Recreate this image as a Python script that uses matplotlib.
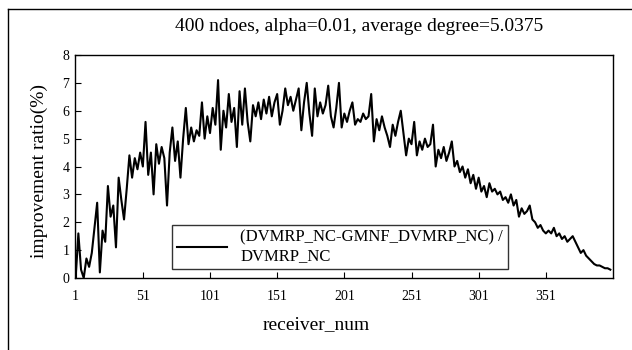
import matplotlib
matplotlib.use("Agg")
import matplotlib.pyplot as plt
from matplotlib.lines import Line2D

# receiver_num sampled every 2 receivers (1, 3, 5, ..., 399)
receivers = list(range(1, 401, 2))
ratio = [
    0.0, 1.6, 0.3, 0.0, 0.7, 0.4, 0.9, 1.8, 2.7, 0.2,
    1.7, 1.3, 3.3, 2.2, 2.6, 1.1, 3.6, 2.8, 2.1, 3.2,
    4.4, 3.6, 4.3, 3.9, 4.5, 4.0, 5.6, 3.7, 4.5, 3.0,
    4.8, 4.1, 4.7, 4.3, 2.6, 4.5, 5.4, 4.2, 4.9, 3.6,
    5.0, 6.1, 4.8, 5.4, 4.9, 5.3, 5.1, 6.3, 5.0, 5.8,
    5.2, 6.1, 5.5, 7.1, 4.6, 6.0, 5.4, 6.6, 5.6, 6.1,
    4.7, 6.7, 5.5, 6.8, 5.6, 4.9, 6.2, 5.8, 6.3, 5.7,
    6.4, 5.9, 6.5, 5.8, 6.3, 6.6, 5.5, 6.0, 6.8, 6.2,
    6.5, 6.0, 6.4, 6.8, 5.3, 6.3, 7.0, 5.9, 5.1, 6.8,
    5.8, 6.3, 5.9, 6.2, 6.9, 5.8, 5.4, 6.1, 7.0, 5.4,
    5.9, 5.6, 6.0, 6.3, 5.5, 5.7, 5.6, 5.9, 5.7, 5.8,
    6.6, 4.9, 5.7, 5.3, 5.8, 5.4, 5.1, 4.7, 5.5, 5.1,
    5.6, 6.0, 5.2, 4.4, 5.0, 4.8, 5.6, 4.4, 4.9, 4.6,
    5.0, 4.7, 4.8, 5.5, 4.0, 4.6, 4.3, 4.7, 4.2, 4.5,
    4.9, 4.0, 4.2, 3.8, 4.0, 3.6, 3.9, 3.4, 3.7, 3.2,
    3.6, 3.1, 3.3, 2.9, 3.4, 3.1, 3.2, 3.0, 3.1, 2.8,
    2.9, 2.7, 3.0, 2.6, 2.8, 2.2, 2.5, 2.3, 2.4, 2.6,
    2.1, 2.0, 1.8, 1.9, 1.7, 1.6, 1.7, 1.6, 1.8, 1.5,
    1.6, 1.4, 1.5, 1.3, 1.4, 1.5, 1.3, 1.1, 0.9, 1.0,
    0.8, 0.7, 0.6, 0.5, 0.45, 0.45, 0.4, 0.35, 0.35, 0.3,
]
xticks = [1, 51, 101, 151, 201, 251, 301, 351]
yticks = [0, 1, 2, 3, 4, 5, 6, 7, 8]
title = "400 ndoes, alpha=0.01, average degree=5.0375"
legendLabel = "(DVMRP_NC-GMNF_DVMRP_NC) /\nDVMRP_NC"

plt.rcParams['font.family'] = ['Liberation Serif', 'DejaVu Serif']

fig = plt.figure(figsize=(6.32, 3.5), dpi=100)
ax = fig.add_axes([75 / 632, 72 / 350, 538 / 632, 223 / 350])

ax.plot(receivers, ratio, color='black', linewidth=1.5, label=legendLabel)
ax.set_xlim(0.5, 401)
ax.set_ylim(0, 8)
ax.set_xticks(xticks)
ax.set_yticks(yticks)
ax.tick_params(axis='x', direction='in', length=4, pad=9, labelsize=10)
ax.tick_params(axis='y', direction='in', length=4, pad=4, labelsize=10)
for s in ax.spines.values():
  s.set_linewidth(1.0)
  s.set_color('black')

ax.set_xlabel("receiver_num", fontsize=14)
ax.xaxis.set_label_coords(0.448, -0.17)
ax.set_ylabel("improvement ratio(%)", fontsize=14)
ax.yaxis.set_label_coords(-0.05, 0.48)

fig.text(0.568, 0.923, title, fontsize=14, ha='center', va='center')

leg = ax.legend(loc='lower left', bbox_to_anchor=(0.18, 0.04), fontsize=12,
                frameon=True, fancybox=False, handlelength=3.0,
                borderaxespad=0, borderpad=0.3, labelspacing=0.2)
leg.get_frame().set_edgecolor('black')
leg.get_frame().set_linewidth(1.0)

# scanned page frame
fig.add_artist(Line2D([8 / 632, 8 / 632], [0, 1 - 9 / 350], color='black', linewidth=1.0))
fig.add_artist(Line2D([8 / 632, 1], [1 - 9 / 350, 1 - 9 / 350], color='black', linewidth=1.0))

fig.savefig("out.png", dpi=100)
